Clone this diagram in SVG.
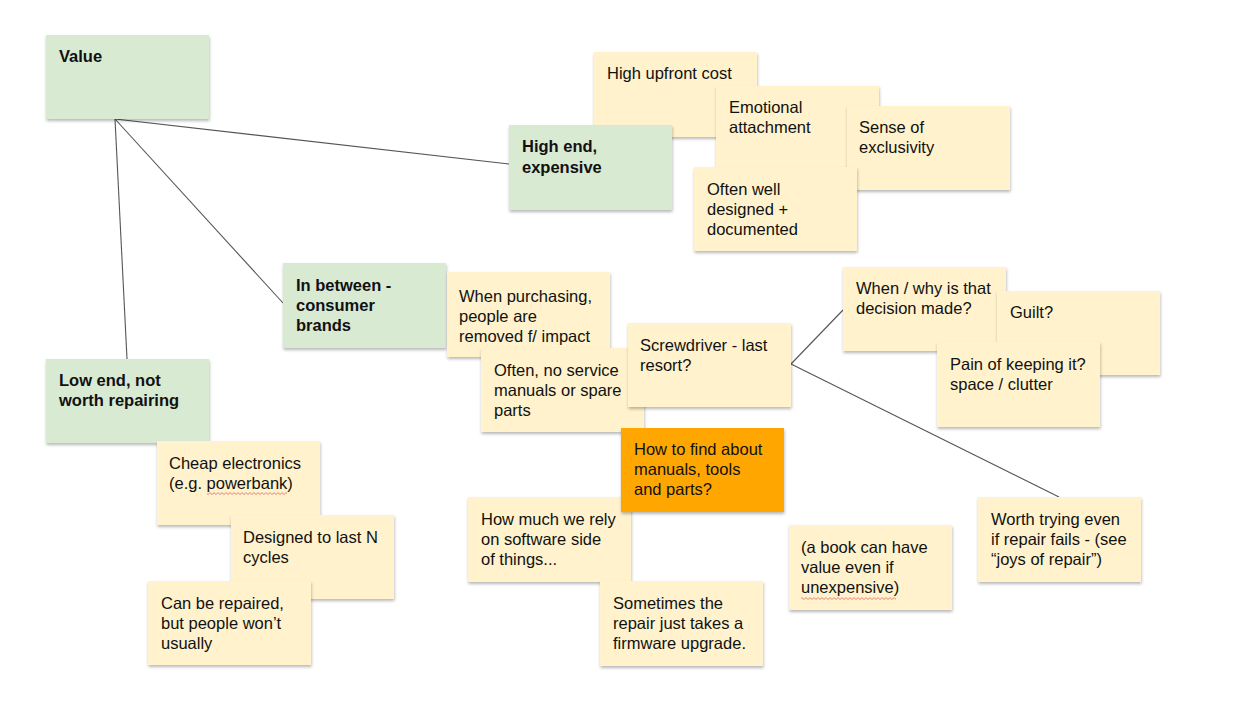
<svg xmlns="http://www.w3.org/2000/svg" width="1253" height="713" viewBox="0 0 1253 713">
<defs>
<filter id="sh" x="-10%" y="-10%" width="125%" height="130%">
<feDropShadow dx="0.5" dy="2" stdDeviation="1.6" flood-color="#000" flood-opacity="0.28"/>
</filter>
<pattern id="wave" width="4" height="3" patternUnits="userSpaceOnUse">
<path d="M0 2.5 L2 0.6 L4 2.5" stroke="#e06666" stroke-width="0.8" fill="none"/>
</pattern>
</defs>
<style>
.g{fill:#d9ead3;filter:url(#sh)}
.y{fill:#fff2cc;filter:url(#sh)}
.o{fill:#ffa600;filter:url(#sh)}
text{font-family:"Liberation Sans",Arial,sans-serif;font-size:16.5px;fill:#111}
.b{font-weight:bold}
.c{stroke:#555;stroke-width:1.1;fill:none}
</style>
<rect width="1253" height="713" fill="#fff"/>
<g id="connectors">
<line class="c" x1="115" y1="119" x2="509" y2="164"/>
<line class="c" x1="115" y1="119" x2="283" y2="303"/>
<line class="c" x1="115" y1="119" x2="127" y2="359"/>
<line class="c" x1="791" y1="364" x2="843" y2="310"/>
<line class="c" x1="791" y1="364" x2="1059" y2="497"/>
</g>
<g id="value"><rect class="g" x="46" y="35" width="163" height="84"/><text class="b" x="59" y="62">Value</text></g>
<g id="upfront"><rect class="y" x="594" y="52" width="163" height="85"/><text x="607" y="79">High upfront cost</text></g>
<g id="emotional"><rect class="y" x="716" y="86" width="163" height="84"/><text x="729" y="113">Emotional</text><text x="729" y="133">attachment</text></g>
<g id="sense"><rect class="y" x="847" y="106" width="163" height="84"/><text x="859" y="133">Sense of</text><text x="859" y="153">exclusivity</text></g>
<g id="oftenwell"><rect class="y" x="694" y="167" width="163" height="84"/><text x="707" y="195">Often well</text><text x="707" y="215">designed +</text><text x="707" y="235">documented</text></g>
<g id="highend"><rect class="g" x="509" y="125" width="163" height="85"/><text class="b" x="522" y="152">High end,</text><text class="b" x="522" y="173">expensive</text></g>
<g id="inbetween"><rect class="g" x="283" y="263" width="163" height="85"/><text class="b" x="296" y="291">In between -</text><text class="b" x="296" y="311">consumer</text><text class="b" x="296" y="331">brands</text></g>
<g id="purchasing"><rect class="y" x="447" y="272" width="163" height="85"/><text x="459" y="302">When purchasing,</text><text x="459" y="322">people are</text><text x="459" y="342">removed f/ impact</text></g>
<g id="noservice"><rect class="y" x="481" y="348" width="163" height="84"/><text x="494" y="376">Often, no service</text><text x="494" y="396">manuals or spare</text><text x="494" y="416">parts</text></g>
<g id="screwdriver"><rect class="y" x="628" y="323" width="163" height="84"/><text x="640" y="351">Screwdriver - last</text><text x="640" y="371">resort?</text></g>
<g id="rely"><rect class="y" x="468" y="497" width="163" height="85"/><text x="481" y="525">How much we rely</text><text x="481" y="545">on software side</text><text x="481" y="565">of things...</text></g>
<g id="howfind"><rect class="o" x="621" y="428" width="163" height="84"/><text x="634" y="455">How to find about</text><text x="634" y="475">manuals, tools</text><text x="634" y="495">and parts?</text></g>
<g id="sometimes"><rect class="y" x="600" y="581" width="163" height="85"/><text x="613" y="609">Sometimes the</text><text x="613" y="629">repair just takes a</text><text x="613" y="649">firmware upgrade.</text></g>
<g id="whenwhy"><rect class="y" x="843" y="267" width="163" height="84"/><text x="856" y="294">When / why is that</text><text x="856" y="314">decision made?</text></g>
<g id="guilt"><rect class="y" x="997" y="291" width="163" height="84"/><text x="1010" y="318">Guilt?</text></g>
<g id="pain"><rect class="y" x="937" y="342" width="163" height="85"/><text x="950" y="370">Pain of keeping it?</text><text x="950" y="390">space / clutter</text></g>
<g id="worth"><rect class="y" x="978" y="497" width="163" height="85"/><text x="991" y="525">Worth trying even</text><text x="991" y="545">if repair fails - (see</text><text x="991" y="565">“joys of repair”)</text></g>
<g id="book"><rect class="y" x="789" y="525" width="163" height="85"/><text x="801" y="553">(a book can have</text><text x="801" y="573">value even if</text><text x="801" y="593">unexpensive)</text><rect x="801" y="597" width="95" height="3" fill="url(#wave)"/></g>
<g id="lowend"><rect class="g" x="46" y="359" width="163" height="84"/><text class="b" x="59" y="386">Low end, not</text><text class="b" x="59" y="406">worth repairing</text></g>
<g id="cheap"><rect class="y" x="157" y="441" width="163" height="84"/><text x="169" y="469">Cheap electronics</text><text x="169" y="489">(e.g. powerbank)</text><rect x="207" y="492" width="80" height="3" fill="url(#wave)"/></g>
<g id="designed"><rect class="y" x="231" y="515" width="163" height="84"/><text x="243" y="543">Designed to last N</text><text x="243" y="563">cycles</text></g>
<g id="canrepair"><rect class="y" x="148" y="581" width="163" height="84"/><text x="161" y="609">Can be repaired,</text><text x="161" y="629">but people won’t</text><text x="161" y="649">usually</text></g>
</svg>
